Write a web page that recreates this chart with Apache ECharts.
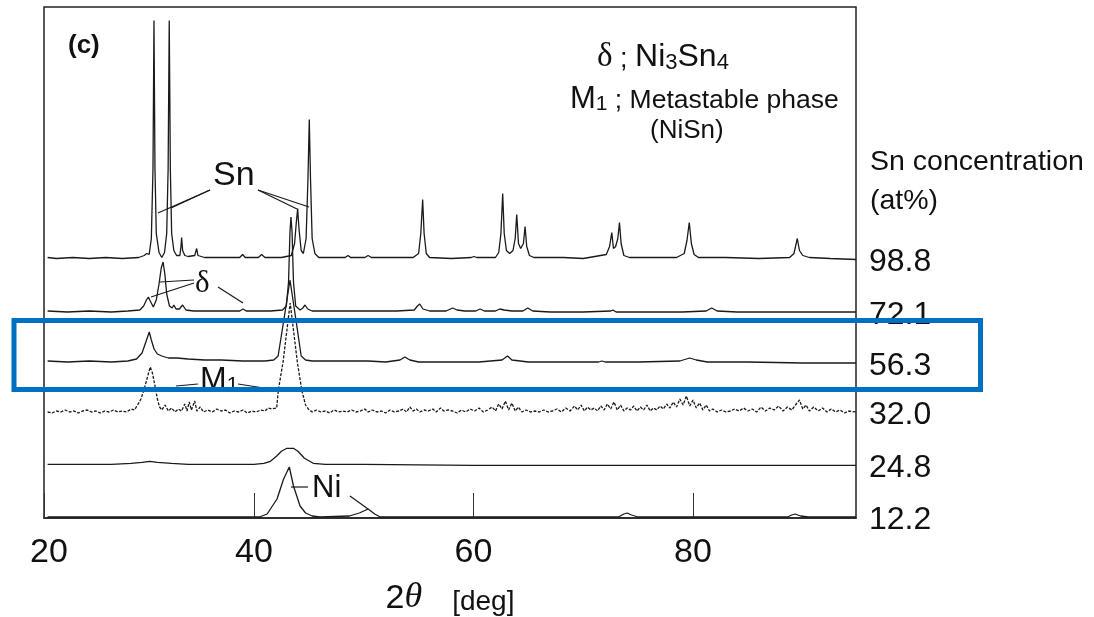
<!DOCTYPE html>
<html><head><meta charset="utf-8">
<script src="https://cdn.jsdelivr.net/npm/echarts@6/dist/echarts.min.js"></script>
<style>html,body{margin:0;padding:0;background:#fff}#c{width:1094px;height:617px}</style>
</head><body><div id="c"></div>
<script>
// Sn concentration (at%) of each pattern, top to bottom
const concentrations = ['98.8', '72.1', '56.3', '32.0', '24.8', '12.2'];
// vertical stacking offset of each pattern (intensity units)
const offsets = [259.5, 206, 156, 105, 53.7, 1];

// XRD patterns: [2theta (deg), intensity above own baseline]
const pattern988 = [[21.2,1],[22,0],[23.5,1],[25,0],[26.5,1],[28,0],[29.5,1],[30.0,3],[30.23,5],[30.45,4],[30.65,20],[30.8,90],[30.89,238],[30.98,90],[31.1,25],[31.35,6],[31.6,1],[31.85,6],[32.05,25],[32.18,90],[32.28,238],[32.38,90],[32.5,25],[32.7,8],[32.95,3],[33.25,3],[33.35,12],[33.41,21],[33.5,8],[33.7,3],[34.0,2],[34.6,3],[34.78,10],[34.9,3],[35.5,1],[37,1],[38.7,1],[38.97,4],[39.2,1],[40.4,1],[40.7,4],[41,1],[42.5,1],[43.4,3],[43.7,15],[43.85,35],[43.98,50],[44.1,30],[44.3,8],[44.5,5],[44.75,20],[44.92,80],[45.04,139],[45.15,80],[45.3,20],[45.55,5],[45.9,1],[47,1],[48.3,1],[48.57,3],[48.8,1],[50.1,1],[50.4,3],[50.7,1],[52,1],[54.5,1],[55.0,5],[55.2,25],[55.37,59],[55.5,25],[55.7,5],[56,1],[58,0],[59.8,1],[60.05,2],[60.3,1],[62,1],[62.3,6],[62.5,25],[62.66,65],[62.8,25],[63.0,8],[63.3,5],[63.6,8],[63.8,20],[63.94,44],[64.1,15],[64.3,10],[64.55,15],[64.7,32],[64.85,12],[65.1,3],[65.5,1],[67,1],[68.2,1],[70,0],[72.1,4],[72.4,12],[72.6,26],[72.75,10],[72.95,12],[73.15,20],[73.3,36],[73.45,15],[73.7,3],[74.2,1],[76,1],[78.5,1],[79.2,5],[79.45,18],[79.66,36],[79.85,15],[80.1,4],[80.5,1],[83,1],[86,0],[88.8,1],[89.2,5],[89.5,20],[89.7,8],[90.0,3],[90.6,1],[92.5,0],[94.85,-1]];

const pattern721 = [[21.2,1],[23,0],[25,1],[27,0],[28.5,1],[29.6,2],[29.95,6],[30.2,12],[30.38,15],[30.55,11],[30.83,5],[31.1,12],[31.35,28],[31.55,44],[31.72,50],[31.88,38],[32.05,18],[32.3,6],[32.55,4],[32.7,7],[32.9,3],[33.2,3],[33.5,7],[33.8,2],[34.5,1],[36,1],[38,1],[38.7,1],[39.0,3],[39.3,1],[41.5,1],[42.6,2],[42.95,6],[43.15,30],[43.28,80],[43.37,95],[43.47,80],[43.6,30],[43.8,6],[44.2,2],[44.45,4],[44.65,7],[44.9,3],[45.3,1],[47,1],[50,1],[53,1],[54.6,2],[54.9,6],[55.1,8],[55.4,3],[56,1],[57.5,1],[58.1,4],[58.5,2],[59.2,1],[60.2,1],[60.6,3],[61,1],[62.0,1],[62.4,3],[62.8,2],[63.5,1],[64.5,1],[64.95,4],[65.4,1],[67,0],[70,0],[72.5,1],[72.7,2],[73,0],[76,0],[79,0],[81.2,1],[81.7,4],[82.2,1],[84,0],[88,0],[91,0],[94.85,0]];

const pattern563 = [[21.2,1],[23,0],[25,1],[27,0],[28.5,1],[29.3,3],[29.8,9],[30.15,20],[30.46,30],[30.65,22],[30.9,13],[31.2,8],[31.6,6],[32.2,4],[33,4],[34,3],[35.5,2],[37,2],[39,1],[41,1],[41.8,2],[42.2,6],[42.75,44],[43.28,82],[43.8,44],[44.3,6],[44.7,2],[45.3,1],[47,1],[50.4,1],[52,0],[53.3,2],[53.75,5],[54.2,2],[55,0],[58,0],[60.5,0],[62.6,2],[63.1,6],[63.5,2],[65,0],[68,0],[71.4,0],[71.7,1],[72,0],[75,0],[78.8,1],[79.4,3],[79.7,4],[80.3,2],[81.3,0],[85,0],[90,-1],[94.85,-1]];

const pattern320 = [[21.2,1],[21.6,0],[22.0,2],[22.4,1],[22.8,3],[23.2,1],[23.6,2],[24.0,0],[24.4,2],[24.8,3],[25.2,1],[25.6,2],[26.0,0],[26.4,2],[26.8,1],[27.2,3],[27.6,1],[28.0,2],[28.4,1],[28.8,4],[29.1,3],[29.4,8],[29.7,14],[30.0,24],[30.3,36],[30.55,46],[30.75,40],[31.0,26],[31.2,14],[31.4,6],[31.6,3],[31.9,8],[32.2,2],[32.5,5],[32.8,1],[33.1,4],[33.4,2],[33.7,9],[33.9,2],[34.1,11],[34.3,3],[34.6,12],[34.8,2],[35.1,6],[35.4,1],[35.8,3],[36.2,1],[36.6,4],[37.0,2],[37.4,3],[37.8,0],[38.2,2],[38.6,1],[39.0,3],[39.4,0],[39.8,2],[40.2,1],[40.6,3],[41.0,2],[41.3,5],[41.6,4],[42.07,5],[42.22,23],[42.65,51],[43.3,110],[43.95,51],[44.35,23],[44.7,8],[44.95,4],[45.3,1],[45.7,3],[46.1,1],[46.5,2],[46.9,0],[47.3,3],[47.7,1],[48.1,2],[48.5,1],[48.9,3],[49.3,1],[49.7,2],[50.1,4],[50.4,1],[50.8,3],[51.2,1],[51.6,2],[52.0,0],[52.4,3],[52.8,1],[53.2,2],[53.6,4],[53.9,1],[54.2,6],[54.5,2],[54.8,4],[55.1,1],[55.5,3],[55.9,2],[56.3,4],[56.6,1],[57.0,5],[57.3,2],[57.7,3],[58.1,2],[58.5,0],[58.9,3],[59.3,1],[59.7,4],[60.1,2],[60.5,5],[60.9,1],[61.3,3],[61.7,6],[62.0,2],[62.3,9],[62.6,4],[62.9,12],[63.2,3],[63.5,10],[63.8,2],[64.1,6],[64.4,1],[64.8,3],[65.2,1],[65.6,2],[66.0,1],[66.4,3],[66.8,1],[67.2,2],[67.6,4],[68.0,1],[68.4,5],[68.8,2],[69.2,7],[69.5,3],[69.8,8],[70.1,2],[70.4,6],[70.7,3],[71.0,5],[71.3,2],[71.6,7],[71.9,3],[72.2,9],[72.5,4],[72.8,11],[73.1,3],[73.4,8],[73.7,2],[74.0,5],[74.3,3],[74.6,7],[74.9,2],[75.2,6],[75.5,3],[75.8,8],[76.1,2],[76.4,5],[76.7,3],[77.0,7],[77.3,4],[77.6,9],[77.9,5],[78.2,11],[78.5,6],[78.8,14],[79.1,8],[79.4,17],[79.7,7],[80.0,13],[80.3,5],[80.6,10],[80.9,3],[81.2,8],[81.5,2],[81.8,4],[82.2,1],[82.6,3],[83.0,1],[83.4,2],[83.8,4],[84.2,2],[84.6,5],[85.0,2],[85.4,4],[85.8,1],[86.2,6],[86.6,2],[87.0,5],[87.4,3],[87.8,7],[88.2,2],[88.6,6],[89.0,3],[89.4,9],[89.7,13],[90.0,4],[90.3,8],[90.6,2],[91.0,6],[91.4,2],[91.8,5],[92.2,1],[92.6,4],[93.0,1],[93.4,3],[93.8,0],[94.2,2],[94.85,1]];

const pattern248 = [[21.2,0],[24,0],[27,0],[28.8,1],[29.8,2],[30.5,3],[31.2,2],[32.5,1],[34,0],[37,0],[40,0],[40.9,1],[41.5,3],[42.05,8],[42.5,13],[43.0,16],[43.6,16],[44.0,13],[44.6,6],[45.4,1],[46.5,0],[50,0],[60,-1],[70,-1],[80,-1],[94.85,-1]];

const pattern122 = [[21.2,0],[30,0],[38,0],[40.5,0],[41.2,3],[42.1,18],[42.7,38],[43.22,50],[43.6,31],[44.2,11],[44.7,4],[45.3,1],[46,0],[48.7,1],[49.6,4],[50.4,8],[51.0,3],[51.5,0],[60,0],[73.2,0],[73.7,3],[74.0,4],[74.4,2],[75,0],[88.6,0],[89.0,2],[89.3,3],[89.8,1],[90.5,0],[94.85,0]];

const patterns = [pattern988, pattern721, pattern563, pattern320, pattern248, pattern122];
const xMin = 20.87, xMax = 94.85;

const FONT = '"Liberation Sans", Arial, sans-serif';
const SERIF = '"Liberation Serif", "Times New Roman", serif';
const INK = '#1a1a1a';

const chart = echarts.init(document.getElementById('c'), null, {renderer: 'canvas'});

const series = patterns.map((p, i) => ({
  type: 'line',
  name: concentrations[i],
  data: p.map(d => [d[0], d[1] + offsets[i]]),
  showSymbol: false,
  symbol: 'none',
  smooth: false,
  animation: false,
  lineStyle: {color: INK, width: 1.3, type: i === 3 ? [3, 1.5] : 'solid'},
  endLabel: {show: true, formatter: '{a}', color: '#111', fontSize: 32, fontFamily: FONT, distance: 13, offset: [0, 3]},
  z: 2
}));

function txt(x, y, text, size, extra) {
  return Object.assign({type: 'text', x: x, y: y, z: 50,
    style: Object.assign({text: text, fontSize: size, fontFamily: FONT, fill: '#111', align: 'left', verticalAlign: 'middle'}, extra || {})});
}
function ln(x1, y1, x2, y2) {
  return {type: 'line', z: 50, shape: {x1: x1, y1: y1, x2: x2, y2: y2}, style: {stroke: INK, lineWidth: 1.2}};
}

const graphics = [
  txt(68, 46, '(c)', 26, {fontWeight: 'bold'}),
  txt(597, 57, '{d|δ}{s| ; }{b|Ni}{m|3}{b|Sn}{m|4}', 32, {rich: {
    d: {fontFamily: SERIF, fontSize: 33, verticalAlign: 'bottom', lineHeight: 33},
    s: {fontFamily: FONT, fontSize: 27, verticalAlign: 'bottom', lineHeight: 33},
    b: {fontFamily: FONT, fontSize: 32, verticalAlign: 'bottom', lineHeight: 33},
    m: {fontFamily: FONT, fontSize: 22, verticalAlign: 'bottom', lineHeight: 33}}}),
  txt(570, 99, '{b|M}{m|1}{s| ; Metastable phase}', 30, {rich: {
    b: {fontFamily: FONT, fontSize: 31, verticalAlign: 'bottom', lineHeight: 31},
    m: {fontFamily: FONT, fontSize: 21, verticalAlign: 'bottom', lineHeight: 31},
    s: {fontFamily: FONT, fontSize: 26.5, verticalAlign: 'bottom', lineHeight: 31}}}),
  txt(650, 131, '(NiSn)', 26),
  txt(213, 176, 'Sn', 34),
  txt(195, 284, 'δ', 31, {fontFamily: SERIF}),
  txt(200, 380, '{b|M}{m|1}', 32, {rich: {
    b: {fontFamily: FONT, fontSize: 32, verticalAlign: 'bottom', lineHeight: 32},
    m: {fontFamily: FONT, fontSize: 21, verticalAlign: 'bottom', lineHeight: 32}}}),
  txt(312, 488, 'Ni', 31),
  txt(870, 162, 'Sn concentration', 28.5),
  txt(870, 201, '(at%)', 28.5),
  // leader lines
  ln(210, 190, 158, 213), ln(210, 190, 171, 208),
  ln(258, 190, 297, 209), ln(258, 190, 309, 207),
  ln(194, 280, 160, 282), ln(194, 283, 151, 297),
  ln(218, 287, 243, 303),
  ln(176, 386, 198, 384), ln(238, 384, 264, 388),
  ln(291, 487, 308, 487), ln(350, 496, 368, 509),
  // highlight box
  {type: 'rect', z: 100, shape: {x: 14, y: 320.5, width: 966.5, height: 69},
   style: {fill: 'rgba(0,0,0,0)', stroke: '#0070C0', lineWidth: 5}}
];

chart.setOption({
  animation: false,
  backgroundColor: '#ffffff',
  grid: {left: 44, right: 238, top: 7, bottom: 99, show: true, borderColor: '#222', borderWidth: 1.5,
         containLabel: false, outerBoundsMode: 'none'},
  xAxis: {
    type: 'value', min: xMin, max: xMax, splitNumber: 4,
    splitLine: {show: false},
    axisLine: {show: true, lineStyle: {color: '#222', width: 1.5}},
    axisTick: {show: true, inside: true, length: 25, lineStyle: {color: '#333', width: 1}},
    axisLabel: {fontSize: 34, fontFamily: FONT, color: '#111', margin: 18, showMaxLabel: false, showMinLabel: true,
      formatter: v => (v < 21 ? '{p|20}' : String(Math.round(v))),
      rich: {p: {fontSize: 34, fontFamily: FONT, color: '#111', padding: [0, 0, 0, 10]}}},
    name: '{a|2}{t|θ}{g|}{b|[deg]}',
    nameLocation: 'middle', nameGap: 62,
    nameTextStyle: {rich: {
      a: {fontSize: 34, fontFamily: FONT, color: '#111', verticalAlign: 'bottom', lineHeight: 36},
      t: {fontSize: 36, fontFamily: SERIF, fontStyle: 'italic', color: '#111', verticalAlign: 'bottom', lineHeight: 36},
      g: {width: 30},
      b: {fontSize: 28, fontFamily: FONT, color: '#111', verticalAlign: 'bottom', lineHeight: 36}}}
  },
  yAxis: {type: 'value', min: 0, max: 511, show: false},
  series: series,
  graphic: graphics
});
</script></body></html>
